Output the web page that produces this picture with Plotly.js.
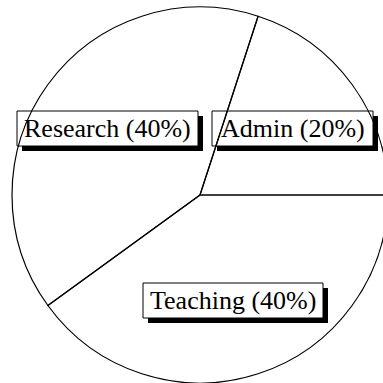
<!DOCTYPE html>
<html>
<head>
<meta charset="utf-8">
<script src="https://cdn.plot.ly/plotly-3.0.1.min.js"></script>
<style>
  html, body { margin: 0; padding: 0; overflow: hidden; background: #fff; }
  #chart { width: 400px; height: 383px; }
</style>
</head>
<body>
<div id="chart"></div>
<script>
// Share of working time
const categories = ['Admin', 'Teaching', 'Research'];
const shares = [20, 40, 40];

// page size in px (the pie runs a little past the right edge, as in the original)
const W = 400;
const H = 383;
const px = x => x / W;
const py = y => 1 - y / H;

// label boxes in px: [left, top, right, bottom], same order as categories
const boxes = [
  [212, 111, 373, 146],
  [143, 283, 323, 318],
  [17, 111, 198, 146]
];
const shadow = 5;

const data = [
  {
    type: 'pie',
    labels: categories,
    values: shares,
    sort: false,
    direction: 'clockwise',
    rotation: 18,
    textinfo: 'none',
    hoverinfo: 'none',
    showlegend: false,
    marker: {
      colors: categories.map(() => 'rgba(0,0,0,0)'),
      line: { color: '#000', width: 1.2 }
    },
    domain: { x: [px(12), px(388)], y: [0, 376 / H] }
  }
];

const shapes = [];
const annotations = [];
boxes.forEach(([l, t, r, b], i) => {
  // drop shadow, then white box on top of it (both below the pie lines)
  shapes.push({
    type: 'rect', xref: 'paper', yref: 'paper', layer: 'below',
    x0: px(l + shadow), x1: px(r + shadow), y0: py(b + shadow), y1: py(t + shadow),
    fillcolor: '#000', line: { width: 0 }
  });
  shapes.push({
    type: 'rect', xref: 'paper', yref: 'paper', layer: 'below',
    x0: px(l), x1: px(r), y0: py(b), y1: py(t),
    fillcolor: '#fff', line: { color: '#000', width: 1 }
  });
  annotations.push({
    xref: 'paper', yref: 'paper',
    x: px((l + r) / 2), y: py((t + b) / 2),
    xanchor: 'center', yanchor: 'middle',
    text: `${categories[i]} (${shares[i]}%)`,
    showarrow: false,
    font: { family: 'Liberation Serif, Times New Roman, serif', size: 26, color: '#000' }
  });
});

const layout = {
  width: W,
  height: H,
  margin: { l: 0, r: 0, t: 0, b: 0 },
  paper_bgcolor: '#fff',
  plot_bgcolor: '#fff',
  shapes: shapes,
  annotations: annotations
};

Plotly.newPlot('chart', data, layout, { displayModeBar: false, staticPlot: true });
</script>
</body>
</html>
